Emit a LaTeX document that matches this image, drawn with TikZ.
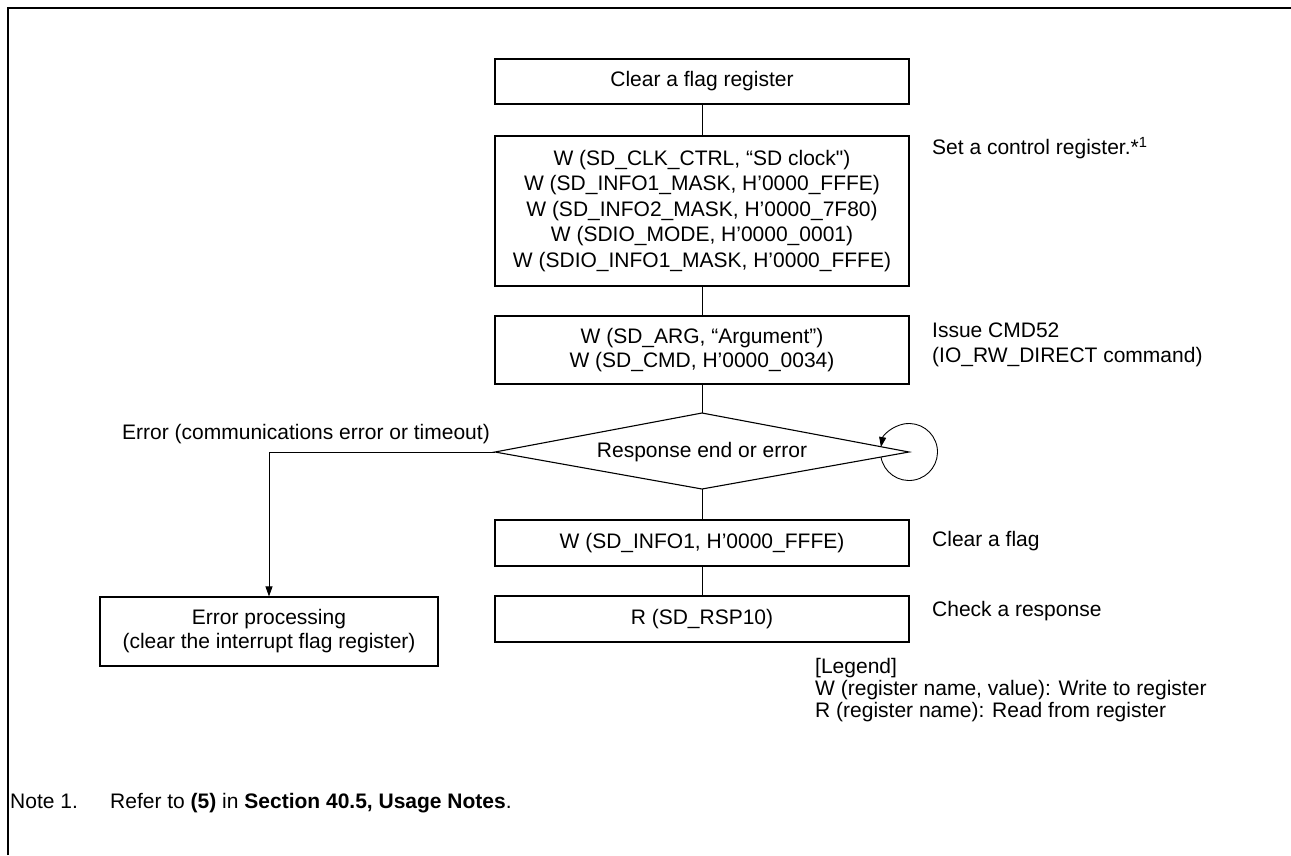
\documentclass[tikz,border=0pt]{standalone}
\usepackage{fontspec}
\setmainfont{Liberation Sans}
\newfontfamily\nolig{Liberation Sans}[Ligatures=TeXOff]
\usetikzlibrary{arrows.meta,calc}
\newcommand{\fsz}{\fontsize{21}{24}\selectfont}
\begin{document}
\begin{tikzpicture}[x=1pt,y=1pt,
  box/.style={draw, line width=1.1pt, minimum width=414pt, inner sep=0pt, align=center, font=\fsz},
  lbl/.style={anchor=west, inner sep=0pt, align=left, font=\fsz},
  conn/.style={line width=0.9pt},
  frame/.style={line width=2.4pt}]
\useasboundingbox (0,0) rectangle (1291,-855);
% frame
\coordinate (fa) at (8,-855);
\coordinate (fb) at (8,-8);
\coordinate (fc) at (1291,-8);
\draw[frame] (fa) -- (fb) -- (fc);
% boxes
\node[box, minimum height=45pt] (b1) at (702,-81.5) {Clear a flag register};
\node[box, minimum height=150pt, font=\fontsize{21}{25.5}\selectfont] (b2) at (702,-211)
  {W (SD\_CLK\_CTRL, “SD clock{\nolig"})\\W (SD\_INFO1\_MASK, H’0000\_FFFE)\\W (SD\_INFO2\_MASK, H’0000\_7F80)\\W (SDIO\_MODE, H’0000\_0001)\\W (SDIO\_INFO1\_MASK, H’0000\_FFFE)};
\node[box, minimum height=68pt] (b3) at (702,-350) {W (SD\_ARG, “Argument”)\\W (SD\_CMD, H’0000\_0034)};
% diamond
\coordinate (dt) at (702,-413);
\coordinate (dr) at (909,-452);
\coordinate (db) at (702,-489);
\coordinate (dl) at (495,-452);
\draw[line width=1.1pt] (dt) -- (dr) -- (db) -- (dl) -- cycle;
\node[font=\fsz, inner sep=0pt] (dtxt) at (702,-452) {Response end or error};
\node[box, minimum height=46pt] (b4) at (702,-543) {W (SD\_INFO1, H’0000\_FFFE)};
\node[box, minimum height=46pt] (b5) at (702,-619) {R (SD\_RSP10)};
\node[box, minimum width=338pt, minimum height=69pt] (err) at (269,-631.5) {Error processing\\(clear the interrupt flag register)};
% connectors
\draw[conn] (b1) -- (b2);
\draw[conn] (b2) -- (b3);
\draw[conn] (b3) -- (dt);
\draw[conn] (db) -- (b4);
\draw[conn] (b4) -- (b5);
\draw[conn, -{Triangle[length=10pt,width=7pt]}] (dl) -| (err.north);
\draw[conn, -{Triangle[length=10pt,width=7pt]}] ($(dr)+(190:28.5)$) arc[start angle=190, end angle=530, radius=28.5];
% labels
\node[font=\fsz, anchor=east, inner sep=0pt] (elbl) at (490,-434) {Error (communications error or timeout)};
\node[lbl] (l2) at (932,-148) {Set a control register.*\textsuperscript{1}};
\node[lbl, font=\fontsize{21}{25}\selectfont] (l3) at (932,-344.5) {Issue CMD52\\(IO\_RW\_DIRECT command)};
\node[lbl] (l4) at (932,-541) {Clear a flag};
\node[lbl] (l5) at (932,-611) {Check a response};
\node[lbl, anchor=north west, font=\fontsize{21}{22}\selectfont] (leg) at (815,-658) {[Legend]\\W (register name, value): Write to register\\R (register name): Read from register};
\node[lbl, anchor=base west] (n1) at (10,-808) {Note 1.};
\node[lbl, anchor=base west] (n2) at (110,-808) {Refer to \textbf{(5)} in \textbf{Section 40.5, Usage Notes}.};
\end{tikzpicture}
\end{document}
